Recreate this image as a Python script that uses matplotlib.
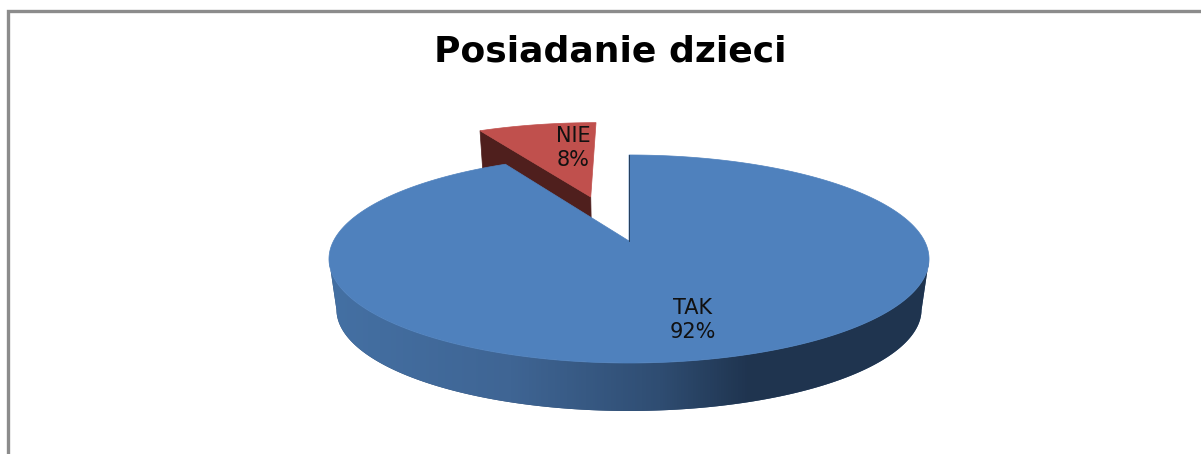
import numpy as np
import matplotlib
matplotlib.use('Agg')
import matplotlib.pyplot as plt
from matplotlib.colors import LinearSegmentedColormap

# Data
categories = ['TAK', 'NIE']
shares = [92, 8]
label_pos = [(693, 320), (573, 148)]

# Pie geometry in image pixels (3D look with a bit of perspective)
cx, cy = 629, 241
rx, ry, persp = 295.5, 100.9, 0.173
depth_cy = 292
depth_scale = 0.975


def project(ux, uy, bottom=False):
    d = 1 + persp * uy
    x = rx * ux / d
    y = ry * uy / d
    if bottom:
        return cx + x * depth_scale, depth_cy - y * depth_scale
    return cx + x, cy - y


def arc(a0, a1, n=200):
    # angles clockwise from 12 o'clock, degrees
    t = np.radians(np.linspace(a0, a1, n))
    return np.sin(t), np.cos(t)


side_cmap = LinearSegmentedColormap.from_list(
    'side', [(0.0, '#4470a3'), (0.3, '#3f6594'), (0.55, '#2f4d72'), (0.7, '#1f344f'), (1.0, '#1f344f')])

fig = plt.figure(figsize=(12.01, 4.54), dpi=100)
ax = fig.add_axes([0, 0, 1, 1])

# Chart frame
ax.plot([8, 8, 1201], [454, 11, 11], color='#8c8c8c', lw=2.4, solid_joinstyle='miter')

ax.text(610, 51, 'Posiadanie dzieci', ha='center', va='center', fontsize=26,
        fontweight='bold', family='DejaVu Sans', color='black')

angles = np.cumsum([0] + shares) * 3.6

# NIE slice, pulled out towards the back
ox, oy = -0.14, 0.4716
ux, uy = arc(angles[1], angles[2], 60)
px, py = project(ux + ox, uy + oy)
tip_x, tip_y = project(ox, oy)
bx, by = project(ox, oy, bottom=True)
lx, ly = project(ux[0] + ox, uy[0] + oy, bottom=True)
ax.fill([px[0], tip_x, bx, lx], [py[0], tip_y, by, ly], color='#4f1f1d', lw=0.5, zorder=2)
ax.fill(np.r_[tip_x, px], np.r_[tip_y, py], color='#c0504d', lw=0.5, zorder=3)

# TAK slice: side wall, a horizontal gradient clipped to the wall outline
ux, uy = arc(angles[0], angles[1], 800)
tx, ty = project(ux, uy)
sx, sy = project(ux, uy, bottom=True)
front = uy <= -persp
wall = ax.fill(np.r_[tx[front], sx[front][::-1]], np.r_[ty[front], sy[front][::-1]],
               color='#2f4d72', lw=0, zorder=4)[0]
grad = ax.imshow(np.linspace(0, 1, 600).reshape(1, -1), cmap=side_cmap, aspect='auto',
                 extent=(330, 930, 454, 0), zorder=4.1)
grad.set_clip_path(wall)

# TAK slice: top
ax.fill(np.r_[cx, tx], np.r_[cy, ty], color='#4f81bd', lw=0.5, zorder=5)
ax.plot([cx, tx[0]], [cy, ty[0]], color='#1f344f', lw=0.6, zorder=5)

for name, share, (x, y) in zip(categories, shares, label_pos):
    ax.text(x, y, f'{name}\n{share}%', ha='center', va='center', fontsize=15,
            family='DejaVu Sans', color='#111111', linespacing=1.3, zorder=6)

ax.set_xlim(0, 1201)
ax.set_ylim(454, 0)
ax.axis('off')

fig.savefig('out.png', dpi=100)
plt.close(fig)
